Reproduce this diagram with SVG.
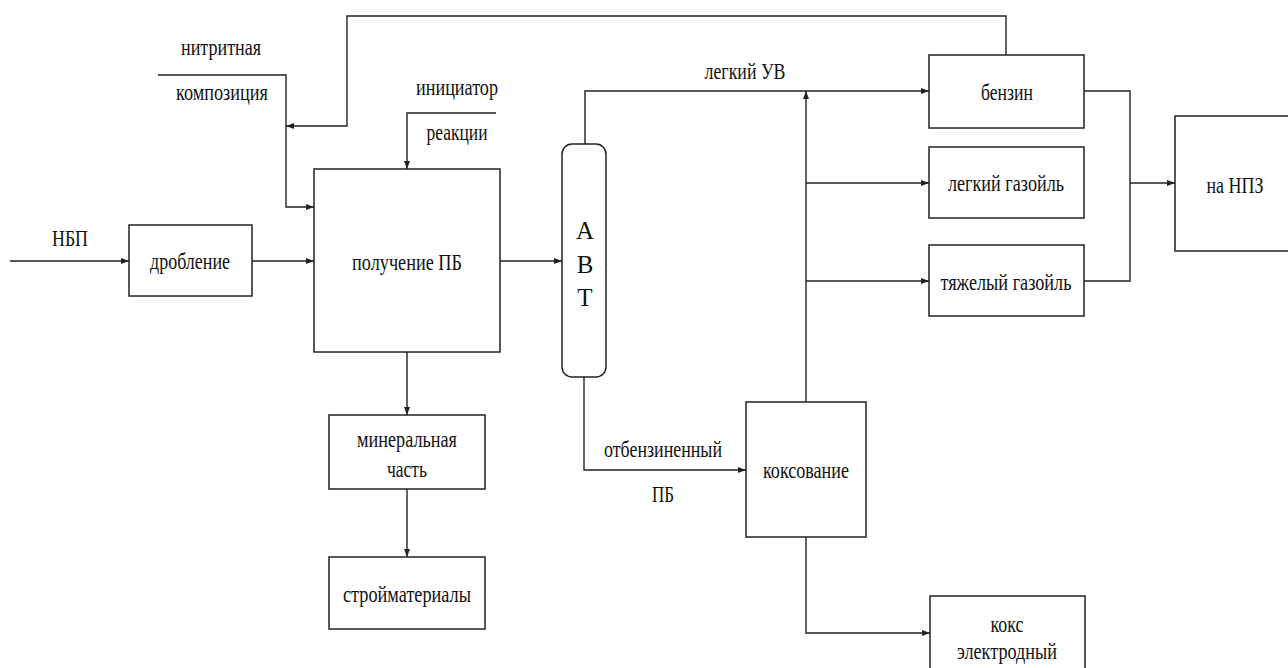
<svg xmlns="http://www.w3.org/2000/svg" width="1288" height="668" viewBox="0 0 1288 668">
<style>
.box{fill:#fff;stroke:#222;stroke-width:1.5}
.ln{fill:none;stroke:#222;stroke-width:1.4}
.ar{marker-end:url(#ah)}
.t{font-family:'Liberation Serif','DejaVu Serif','Times New Roman',serif;font-size:23px;fill:#111;text-anchor:middle}
.big{font-size:25px}
</style>
<defs>
<marker id="ah" markerWidth="8" markerHeight="6" refX="8" refY="3" orient="auto" markerUnits="userSpaceOnUse">
<path d="M0,0 L8,3 L0,6 Z" fill="#222"/>
</marker>
</defs>
<rect width="1288" height="668" fill="#fff"/>
<g id="connectors">
<path class="ln ar" d="M10,261 H129"/>
<path class="ln ar" d="M252,261 H314"/>
<path class="ln ar" d="M500,261 H562"/>
<path class="ln ar" d="M158,75 H286 V207 H314"/>
<path class="ln ar" d="M1006,55 V16 H347 V126 H286"/>
<path class="ln ar" d="M496,113 H407 V169"/>
<path class="ln ar" d="M407,352 V415"/>
<path class="ln ar" d="M407,489 V557"/>
<path class="ln ar" d="M585,144 V91 H929"/>
<path class="ln ar" d="M584,377 V470 H746"/>
<path class="ln ar" d="M806,402 V91"/>
<path class="ln ar" d="M806,183 H929"/>
<path class="ln ar" d="M806,281 H929"/>
<path class="ln ar" d="M806,537 V633 H930"/>
<path class="ln" d="M1084,91 H1130 V281 H1084"/>
<path class="ln ar" d="M1130,183 H1175"/>
</g>
<g id="labels" class="t">
<text x="221" y="55" textLength="80" lengthAdjust="spacingAndGlyphs">нитритная</text>
<text x="222" y="100" textLength="92" lengthAdjust="spacingAndGlyphs">композиция</text>
<text x="457" y="95" textLength="82" lengthAdjust="spacingAndGlyphs">инициатор</text>
<text x="457" y="140" textLength="61" lengthAdjust="spacingAndGlyphs">реакции</text>
<text x="70" y="246" textLength="36" lengthAdjust="spacingAndGlyphs">НБП</text>
<text x="745" y="79" textLength="81" lengthAdjust="spacingAndGlyphs">легкий УВ</text>
<text x="663" y="457" textLength="118" lengthAdjust="spacingAndGlyphs">отбензиненный</text>
<text x="663" y="502" textLength="22" lengthAdjust="spacingAndGlyphs">ПБ</text>
</g>
<g id="n-drob" class="t"><rect class="box" x="129" y="225" width="123" height="71"/><text x="190" y="269" textLength="80" lengthAdjust="spacingAndGlyphs">дробление</text></g>
<g id="n-pb" class="t"><rect class="box" x="314" y="169" width="186" height="183"/><text x="407" y="270" textLength="110" lengthAdjust="spacingAndGlyphs">получение ПБ</text></g>
<g id="n-avt" class="t"><rect class="box" x="562" y="144" width="44" height="233" rx="10" ry="10"/><text class="big" x="585" y="239">А</text><text class="big" x="585" y="273">В</text><text class="big" x="585" y="306">Т</text></g>
<g id="n-min" class="t"><rect class="box" x="329" y="415" width="156" height="74"/><text x="407" y="447" textLength="100" lengthAdjust="spacingAndGlyphs">минеральная</text><text x="407" y="477" textLength="40" lengthAdjust="spacingAndGlyphs">часть</text></g>
<g id="n-stroy" class="t"><rect class="box" x="329" y="557" width="156" height="72"/><text x="407" y="602" textLength="128" lengthAdjust="spacingAndGlyphs">стройматериалы</text></g>
<g id="n-benz" class="t"><rect class="box" x="929" y="55" width="155" height="73"/><text x="1007" y="100" textLength="52" lengthAdjust="spacingAndGlyphs">бензин</text></g>
<g id="n-lg" class="t"><rect class="box" x="929" y="147" width="155" height="71"/><text x="1006" y="191" textLength="116" lengthAdjust="spacingAndGlyphs">легкий газойль</text></g>
<g id="n-tg" class="t"><rect class="box" x="929" y="245" width="155" height="71"/><text x="1006" y="290" textLength="131" lengthAdjust="spacingAndGlyphs">тяжелый газойль</text></g>
<g id="n-npz" class="t"><rect class="box" x="1175" y="116" width="120" height="135"/><text x="1235" y="193" textLength="57" lengthAdjust="spacingAndGlyphs">на НПЗ</text></g>
<g id="n-koks" class="t"><rect class="box" x="746" y="402" width="120" height="135"/><text x="806" y="478" textLength="86" lengthAdjust="spacingAndGlyphs">коксование</text></g>
<g id="n-koks-el" class="t"><rect class="box" x="930" y="596" width="155" height="90"/><text x="1007" y="632" textLength="33" lengthAdjust="spacingAndGlyphs">кокс</text><text x="1007" y="659" textLength="100" lengthAdjust="spacingAndGlyphs">электродный</text></g>
</svg>
